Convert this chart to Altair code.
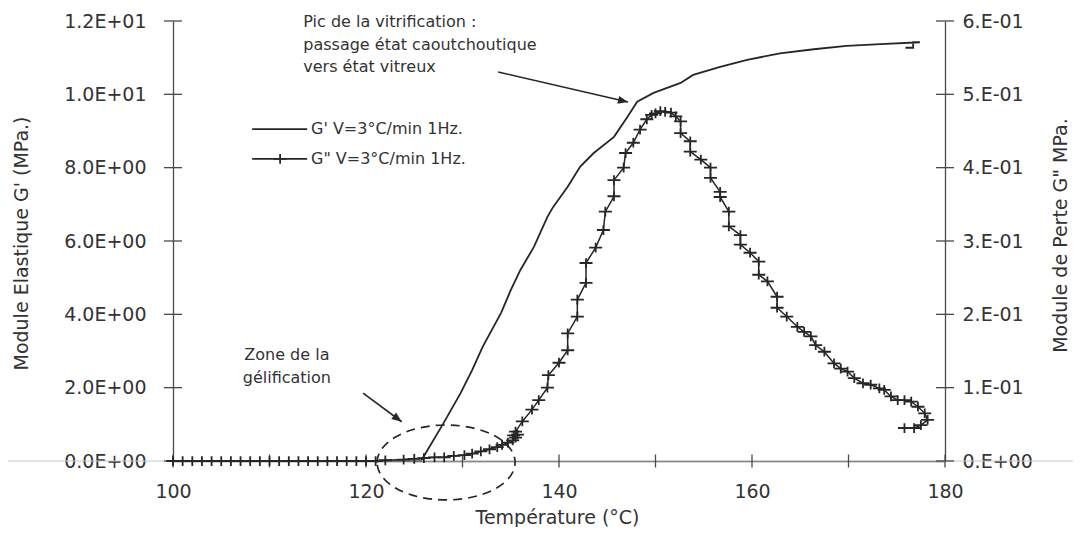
import altair as alt
import pandas as pd

# ---------------- data ----------------
# G' (left axis, MPa) vs temperature
gp_temp = [100.0, 125.7, 128.05, 129.8, 131.0, 132.1, 134.0, 135.0, 136.0, 137.4, 138.8,
           139.4, 140.9, 142.2, 143.6, 145.7, 147.1, 148.1, 149.8, 152.6, 153.9, 156.7,
           159.5, 162.9, 166.4, 169.8, 173.3, 177.4, 176.7, 176.7, 175.9]
gp_val = [0.0, 0.0, 1.04, 1.85, 2.48, 3.12, 4.04, 4.66, 5.21, 5.84, 6.66,
          6.93, 7.48, 8.03, 8.40, 8.84, 9.39, 9.80, 10.04, 10.31, 10.53, 10.75,
          10.94, 11.12, 11.23, 11.32, 11.37, 11.42, 11.42, 11.27, 11.27]

# G'' (right axis, MPa) vs temperature
gpp_temp = [100, 101, 102, 103, 104, 105, 106, 107, 108, 109, 110, 111, 112, 113, 114,
            115, 116, 117, 118, 119, 120, 121, 122,
            123.9, 125.0, 126.0, 127.1, 128.1, 129.1, 130.2, 131.0, 131.9, 132.8, 133.6,
            134.1, 134.7, 135.2, 135.5, 135.3, 135.7, 135.5, 136.2, 137.2, 137.9, 138.8,
            138.9, 140.0, 140.9, 140.9, 141.9, 141.9, 142.8, 142.8, 143.8, 144.6, 144.8,
            145.7, 145.7, 146.7, 146.9, 147.7, 148.4, 149.1, 149.6, 150.0, 150.5, 151.0,
            151.6, 152.1, 152.6, 152.6, 153.6, 153.6, 154.7, 155.7, 155.7, 156.7, 156.7,
            157.6, 157.6, 158.8, 158.8, 159.8, 160.7, 160.7, 161.6, 162.6, 162.6, 163.6,
            164.7, 165.4, 166.1, 166.6, 167.5, 168.5, 169.2, 169.9, 170.6, 171.5, 172.3,
            173.2, 173.7, 174.4, 175.1, 175.8, 176.5, 177.2, 177.9, 178.2, 177.5, 176.8,
            175.8]
gpp_val = [0.0, 0.0, 0.0, 0.0, 0.0, 0.0, 0.0, 0.0, 0.0, 0.0, 0.0, 0.0, 0.0, 0.0, 0.0,
           0.0, 0.0, 0.0, 0.0, 0.0, 0.0, 0.0, 0.001,
           0.002, 0.003, 0.004, 0.005, 0.005, 0.007, 0.008, 0.010, 0.013, 0.016, 0.019,
           0.022, 0.025, 0.028, 0.032, 0.035, 0.036, 0.040, 0.054, 0.070, 0.083, 0.100,
           0.117, 0.134, 0.151, 0.174, 0.197, 0.220, 0.243, 0.270, 0.291, 0.315, 0.340,
           0.361, 0.383, 0.400, 0.420, 0.434, 0.452, 0.466, 0.472, 0.474, 0.477, 0.476,
           0.475, 0.470, 0.463, 0.447, 0.436, 0.422, 0.411, 0.400, 0.386, 0.367, 0.360,
           0.340, 0.320, 0.308, 0.295, 0.284, 0.272, 0.254, 0.245, 0.224, 0.209, 0.197,
           0.183, 0.176, 0.170, 0.158, 0.149, 0.133, 0.126, 0.122, 0.113, 0.106, 0.104,
           0.099, 0.097, 0.088, 0.083, 0.083, 0.081, 0.074, 0.065, 0.056, 0.049, 0.045,
           0.045]

# axes ticks and labels
x_ticks = [100, 110, 120, 130, 140, 150, 160, 170, 180]
x_label_values = [100, 120, 140, 160, 180]
yl_ticks = [0, 2, 4, 6, 8, 10, 12]
yl_labels = ["0.0E+00", "2.0E+00", "4.0E+00", "6.0E+00", "8.0E+00", "1.0E+01", "1.2E+01"]
yr_ticks = [0.0, 0.1, 0.2, 0.3, 0.4, 0.5, 0.6]
yr_labels = ["0.E+00", "1.E-01", "2.E-01", "3.E-01", "4.E-01", "5.E-01", "6.E-01"]

x_title = "Température (°C)"
yl_title = "Module Elastique G' (MPa.)"
yr_title = 'Module de Perte G" MPa.'

# legend (drawn inside the plot, in G' / temperature coordinates)
legend_labels = ["G' V=3°C/min 1Hz.", 'G" V=3°C/min 1Hz.']
legend_rows = [9.05, 8.24]
legend_line_from = 108.2
legend_line_to = 113.9
legend_marker_at = 111.1
legend_text_at = 114.3

# annotations (temperature / G' coordinates)
pic_lines = ["Pic de la vitrification :", "passage état caoutchoutique", "vers état vitreux"]
pic_x = [113.5, 113.5, 113.5]
pic_y = [11.97, 11.35, 10.75]
gel_lines = ["Zone de la", "gélification"]
gel_x = [111.8, 111.8]
gel_y = [2.89, 2.26]
arrow_x1 = [133.7, 119.7]
arrow_y1 = [10.61, 1.85]
arrow_x2 = [147.15, 123.7]
arrow_y2 = [9.79, 1.07]
arrow_angle = [13.0, 36.6]
ellipse_x = [128.3]
ellipse_y = [-0.04]

# ---------------- styling ----------------
W, H = 772, 440
FONT = "DejaVu Sans"
INK = "#262626"
AXC = "#4a4a4a"
TXT = "#333333"

PLUS = "M -1 0 L 1 0 M 0 -0.75 L 0 0.75"
ARROW = "M 0 0 L -1 -0.4 L -1 0.4 Z"
ELLIPSE = ("M -1 0 C -1 -0.3 -0.552 -0.543 0 -0.543 C 0.552 -0.543 1 -0.3 1 0 "
           "C 1 0.3 0.552 0.543 0 0.543 C -0.552 0.543 -1 0.3 -1 0 Z")

xs = alt.Scale(domain=[100, 180], nice=False, zero=False)
yls = alt.Scale(domain=[0, 12], nice=False, zero=False)
yrs = alt.Scale(domain=[0, 0.6], nice=False, zero=False)


def arr(lst):
    return "[" + ",".join("'" + s + "'" for s in lst) + "]"


common = dict(grid=False, ticks=False, tickSize=0, labelFlush=False, labelOverlap=False,
              labelFont=FONT, labelFontSize=19, labelColor=TXT, domainColor=AXC,
              domainWidth=1.3, titleFont=FONT, titleFontSize=19, titleFontWeight="normal",
              titleColor=TXT, titleBaseline="middle", titleAlign="center")

x_axis = alt.Axis(values=x_label_values, title=x_title, labelPadding=21,
                  titleX=384, titleY=56, **common)
yl_axis = alt.Axis(values=yl_ticks, title=yl_title, orient="left", labelPadding=27,
                   labelExpr=arr(yl_labels) + "[round(datum.value/2)]",
                   titleAngle=270, titleX=-152, titleY=222, **common)
yr_axis = alt.Axis(values=yr_ticks, title=yr_title, orient="right", labelPadding=17,
                   labelExpr=arr(yr_labels) + "[round(datum.value*10)]",
                   titleAngle=270, titleX=115, titleY=214, **common)


def X(field):
    return alt.X(field, scale=xs, axis=x_axis)


def YL(field):
    return alt.Y(field, scale=yls, axis=yl_axis)


def YR(field):
    return alt.Y(field, scale=yrs, axis=yr_axis)


# ---------------- tables ----------------
df_gp = pd.DataFrame({"T": gp_temp, "G": gp_val, "i": list(range(len(gp_temp)))})
df_gpp = pd.DataFrame({"T": gpp_temp, "G2": gpp_val, "i": list(range(len(gpp_temp)))})
df_xt = pd.DataFrame({"v": x_ticks})
df_ylt = pd.DataFrame({"v": yl_ticks})
df_yrt = pd.DataFrame({"v": yr_ticks})
df_pic = pd.DataFrame({"x": pic_x, "y": pic_y, "t": pic_lines})
df_gel = pd.DataFrame({"x": gel_x, "y": gel_y, "t": gel_lines})
df_arr = pd.DataFrame({"x1": arrow_x1, "y1": arrow_y1, "x2": arrow_x2, "y2": arrow_y2,
                       "a": arrow_angle})
df_ell = pd.DataFrame({"x": ellipse_x, "y": ellipse_y})
df_leg = pd.DataFrame({"x1": [legend_line_from] * 2, "x2": [legend_line_to] * 2,
                       "xm": [legend_marker_at] * 2, "xt": [legend_text_at] * 2,
                       "y": legend_rows, "t": legend_labels})
df_base = pd.DataFrame({"y0": [0.0]})

# ---------------- left (G') layers ----------------
gp_line = alt.Chart(df_gp).mark_line(color=INK, strokeWidth=1.8).encode(
    x=X("T:Q"), y=YL("G:Q"), order="i:Q")

scan_line = alt.Chart(df_base).mark_rule(color="#c8c8c8", strokeWidth=1).encode(
    y=YL("y0:Q"), x=alt.value(-200), x2=alt.value(W + 200))

x_tick_marks = alt.Chart(df_xt).mark_tick(orient="vertical", size=13, thickness=1.3,
                                           color=AXC, opacity=1).encode(
    x=X("v:Q"), y=alt.value(H))

yl_tick_marks = alt.Chart(df_ylt).mark_tick(orient="horizontal", size=18, thickness=1.3,
                                             color=AXC, opacity=1).encode(
    y=YL("v:Q"), x=alt.value(0))

pic_text = alt.Chart(df_pic).mark_text(align="left", baseline="middle", font=FONT,
                                       fontSize=16, color=TXT).encode(
    x=X("x:Q"), y=YL("y:Q"), text="t:N")

gel_text = alt.Chart(df_gel).mark_text(align="center", baseline="middle", font=FONT,
                                       fontSize=16, color=TXT).encode(
    x=X("x:Q"), y=YL("y:Q"), text="t:N")

arrow_lines = alt.Chart(df_arr).mark_rule(color=INK, strokeWidth=1.6).encode(
    x=X("x1:Q"), y=YL("y1:Q"), x2="x2:Q", y2="y2:Q")

arrow_heads = alt.Chart(df_arr).mark_point(shape=ARROW, filled=True, size=400, color=INK,
                                           opacity=1).encode(
    x=X("x2:Q"), y=YL("y2:Q"), angle=alt.Angle("a:Q", scale=None))

ellipse = alt.Chart(df_ell).mark_point(shape=ELLIPSE, filled=False, size=19044, color=INK,
                                       strokeWidth=1.7, strokeDash=[9, 6], opacity=1).encode(
    x=X("x:Q"), y=YL("y:Q"))

leg_lines = alt.Chart(df_leg).mark_rule(color=INK, strokeWidth=1.8).encode(
    x=X("x1:Q"), x2="x2:Q", y=YL("y:Q"))

leg_marker = alt.Chart(df_leg.iloc[[1]]).mark_point(shape=PLUS, filled=False, size=169,
                                                    color=INK, strokeWidth=1.8,
                                                    opacity=1).encode(
    x=X("xm:Q"), y=YL("y:Q"))

leg_text = alt.Chart(df_leg).mark_text(align="left", baseline="middle", font=FONT,
                                       fontSize=16, color=TXT).encode(
    x=X("xt:Q"), y=YL("y:Q"), text="t:N")

left = alt.layer(gp_line, scan_line, x_tick_marks, yl_tick_marks, pic_text, gel_text,
                 arrow_lines, arrow_heads, ellipse, leg_lines, leg_marker, leg_text)

# ---------------- right (G'') layers ----------------
gpp_line = alt.Chart(df_gpp).mark_line(color=INK, strokeWidth=1.5).encode(
    x=X("T:Q"), y=YR("G2:Q"), order="i:Q")

gpp_pts = alt.Chart(df_gpp).mark_point(shape=PLUS, filled=False, size=169, color=INK,
                                       strokeWidth=1.8, opacity=1).encode(
    x=X("T:Q"), y=YR("G2:Q"))

yr_tick_marks = alt.Chart(df_yrt).mark_tick(orient="horizontal", size=18, thickness=1.3,
                                             color=AXC, opacity=1).encode(
    y=YR("v:Q"), x=alt.value(W))

right = alt.layer(gpp_line, gpp_pts, yr_tick_marks)

chart = alt.layer(left, right).resolve_scale(y="independent").properties(
    width=W, height=H, autosize="none",
    padding={"left": 165, "top": 13, "right": 128, "bottom": 66},
    background="white",
).configure_view(stroke=None)

chart.save("out.html", embed_options={"renderer": "svg", "actions": False})
